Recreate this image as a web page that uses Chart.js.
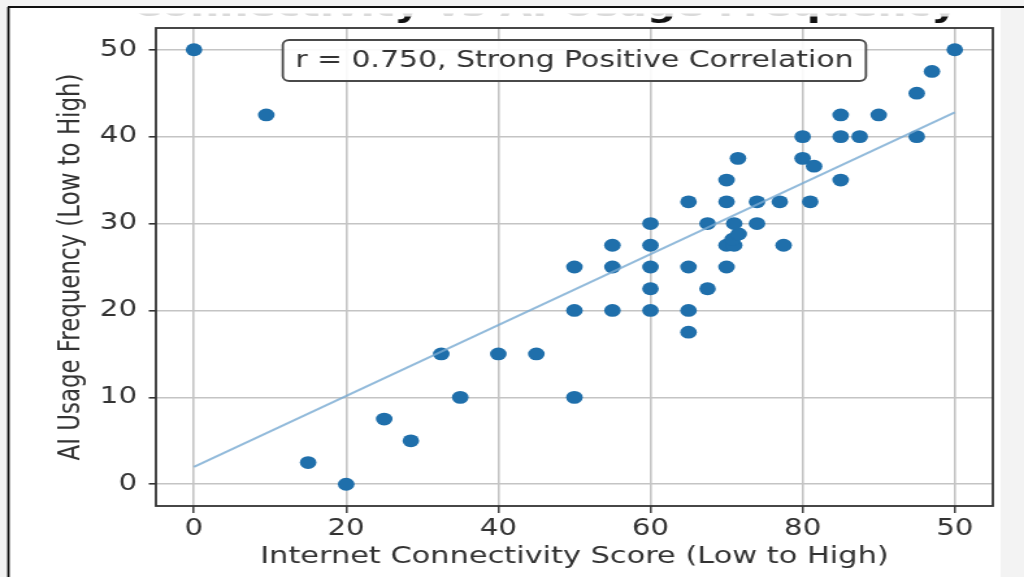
<!DOCTYPE html>
<html><head><meta charset="utf-8">
<script src="https://cdn.jsdelivr.net/npm/chart.js@4.4.1/dist/chart.umd.min.js"></script>
<style>
html,body{margin:0;padding:0;background:#fff;overflow:hidden;width:1024px;height:577px;}
#c{position:absolute;left:0;top:0;transform:scaleX(1.2995);transform-origin:0 0;}
</style></head><body>
<canvas id="c" width="788" height="577"></canvas>
<script>
// ---- data ----
const connectivity = [0, 9.5, 15, 20, 25, 28.5, 32.5, 35, 40, 45,
  50, 50, 50, 55, 55, 55, 60, 60, 60, 60, 60,
  65, 65, 65, 65, 67.5, 67.5, 70, 70, 70, 70, 71, 70.8, 71.6,
  71.5, 71, 74, 74, 77, 77.5, 80, 80, 81.5, 81,
  85, 85, 87.5, 85, 90, 95, 95, 97, 100];
const aiUsage = [50, 42.5, 2.5, 0, 7.5, 5, 15, 10, 15, 15,
  25, 20, 10, 27.5, 25, 20, 30, 27.5, 25, 22.5, 20,
  32.5, 25, 20, 17.5, 30, 22.5, 35, 32.5, 27.5, 25, 27.5, 28.2, 28.8,
  37.5, 30, 30, 32.5, 32.5, 27.5, 40, 37.5, 36.6, 32.5,
  42.5, 40, 40, 35, 42.5, 45, 40, 47.5, 50];
const fitX = [0, 100];
const fitY = [2.0, 42.8];
const xTickValues = [0, 20, 40, 60, 80, 100];
const xTickLabels = ["0", "20", "40", "60", "80", "50"];
const yTickValues = [0, 10, 20, 30, 40, 50];
const yTickLabels = ["0", "10", "20", "30", "40", "50"];
const chartTitle = "Connectivity vs AI Usage Frequency";
const xAxisTitle = "Internet Connectivity Score (Low to High)";
const yAxisTitle = "AI Usage Frequency (Low to High)";
const annotationText = "r = 0.750, Strong Positive Correlation";

const FONT = '"DejaVu Sans", "Noto Sans", sans-serif';
const TXT = '#333333';

function clippedTitle(ctx, width, y0, y1, color) {
  ctx.save();
  ctx.beginPath();
  ctx.rect(0, y0, width, y1 - y0);
  ctx.clip();
  ctx.font = 'bold 31.5px ' + FONT;
  ctx.fillStyle = color;
  ctx.textAlign = 'center';
  ctx.textBaseline = 'alphabetic';
  ctx.fillText(chartTitle, width * 0.532, 16);
  ctx.restore();
}

const decor = {
  id: 'decor',
  beforeDraw(chart) {
    const {ctx, width, height} = chart;
    ctx.save();
    ctx.fillStyle = '#f3f3f3';
    ctx.fillRect(0, 0, width, height);
    ctx.fillStyle = '#ffffff';
    ctx.fillRect(7, 7, 763, height - 7);
    // title: only its lowest part shows below the cropped top edge
    clippedTitle(ctx, width, 13.5, 16.5, '#dadada');
    clippedTitle(ctx, width, 16.5, 32, '#111');
    ctx.strokeStyle = '#111';
    ctx.lineWidth = 1.8;
    ctx.beginPath(); ctx.moveTo(6, 7); ctx.lineTo(width, 7); ctx.stroke();
    ctx.beginPath(); ctx.moveTo(6.5, 7); ctx.lineTo(6.5, height); ctx.stroke();
    ctx.restore();
  },
  afterDatasetsDraw(chart) {
    const {ctx, chartArea: a} = chart;
    ctx.save();
    ctx.strokeStyle = '#333';
    ctx.lineWidth = 1.8;
    ctx.strokeRect(a.left, a.top, a.right - a.left, a.bottom - a.top);
    // annotation box
    ctx.font = '23px ' + FONT;
    const tw = ctx.measureText(annotationText).width;
    const bw = tw + 19, bh = 41;
    const cx = (a.left + a.right) / 2;
    const bx = cx - bw / 2, by = a.top + 12;
    ctx.beginPath();
    if (ctx.roundRect) ctx.roundRect(bx, by, bw, bh, 5); else ctx.rect(bx, by, bw, bh);
    ctx.fillStyle = 'rgba(255,255,255,0.9)';
    ctx.fill();
    ctx.strokeStyle = '#4a4a4a';
    ctx.lineWidth = 1.8;
    ctx.stroke();
    ctx.fillStyle = TXT;
    ctx.textAlign = 'center';
    ctx.textBaseline = 'middle';
    ctx.fillText(annotationText, cx, by + bh / 2 + 1);
    ctx.restore();
  }
};

new Chart(document.getElementById('c'), {
  type: 'scatter',
  data: {
    datasets: [
      {
        type: 'line',
        label: 'fit',
        data: fitX.map((x, i) => ({x, y: fitY[i]})),
        borderColor: 'rgba(120,170,210,0.8)',
        borderWidth: 2,
        pointRadius: 0,
        fill: false,
        order: 0
      },
      {
        label: 'points',
        data: connectivity.map((x, i) => ({x, y: aiUsage[i]})),
        backgroundColor: '#1f6fab',
        borderWidth: 0,
        pointRadius: 6.4,
        pointHoverRadius: 6.4,
        order: 1
      }
    ]
  },
  options: {
    responsive: false,
    animation: false,
    devicePixelRatio: 1,
    events: [],
    layout: {padding: {left: 0, right: 24, top: 28, bottom: 0}},
    plugins: {legend: {display: false}, tooltip: {enabled: false}, title: {display: false}},
    scales: {
      x: {
        type: 'linear',
        min: -5, max: 105,
        afterBuildTicks: s => { s.ticks = xTickValues.map(v => ({value: v})); },
        afterFit: s => { s.height = 71; },
        ticks: {
          callback: v => xTickLabels[xTickValues.indexOf(v)],
          color: TXT, font: {family: FONT, size: 22.5}, padding: 3, maxRotation: 0, autoSkip: false
        },
        grid: {color: '#c4c4c4', lineWidth: 1.6, tickColor: '#333', tickLength: 7, tickWidth: 1.4},
        border: {display: false},
        title: {display: true, text: xAxisTitle, color: TXT, font: {family: FONT, size: 23.4}, padding: {top: 0, bottom: 6}}
      },
      y: {
        type: 'linear',
        min: -2.5, max: 52.5,
        afterBuildTicks: s => { s.ticks = yTickValues.map(v => ({value: v})); },
        afterFit: s => { s.width = 120; },
        ticks: {
          callback: v => yTickLabels[yTickValues.indexOf(v)],
          color: TXT, font: {family: FONT, size: 22.5}, padding: 9
        },
        grid: {color: '#c4c4c4', lineWidth: 1.6, tickColor: '#333', tickLength: 5.5, tickWidth: 1.6},
        border: {display: false},
        title: {display: true, text: yAxisTitle, color: TXT, font: {family: FONT, size: 22.9}, padding: {top: 41, bottom: 0}}
      }
    }
  },
  plugins: [decor]
});
</script>
</body></html>
